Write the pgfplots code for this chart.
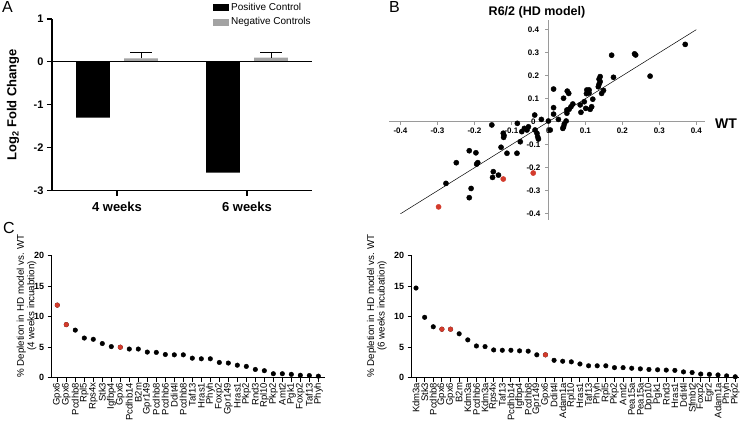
\documentclass[border=0pt]{standalone}
\usepackage{fontspec}
\setmainfont{Liberation Sans}
\usepackage{pgfplots}
\usepackage{pgfplotstable}
\pgfplotsset{compat=1.18}
\definecolor{ptred}{HTML}{D33B2C}
\definecolor{negg}{HTML}{A3A3A3}
\definecolor{axg}{HTML}{9A9A9A}

\pgfplotstableread{
x y
0.370 0.336
0.233 0.295
0.236 0.290
0.171 0.289
0.275 0.198
0.176 0.193
0.140 0.196
0.137 0.185
0.140 0.174
0.137 0.163
0.135 0.152
0.149 0.136
0.144 0.123
0.120 0.098
0.104 0.138
0.110 0.138
0.103 0.122
0.110 0.125
0.097 0.087
0.101 0.058
0.113 0.054
0.117 0.065
0.086 0.073
0.088 0.041
0.066 0.077
0.061 0.065
0.056 0.054
0.050 0.051
0.050 0.037
0.051 0.133
0.055 0.123
0.041 0.102
0.014 0.142
0.014 0.061
0.014 0.033
0.027 0.010
0.048 0.003
0.043 -0.010
0.041 -0.022
0.039 -0.029
0.005 -0.036
0.000 0.003
-0.019 0.010
-0.037 0.029
-0.036 -0.036
-0.031 -0.050
-0.029 -0.065
-0.027 -0.075
-0.054 -0.022
-0.058 -0.036
-0.072 -0.043
-0.065 -0.029
-0.084 -0.007
-0.076 -0.087
-0.085 -0.137
-0.112 -0.137
-0.128 -0.111
-0.122 -0.050
-0.120 -0.060
-0.121 -0.068
-0.153 -0.014
-0.214 -0.126
-0.196 -0.135
-0.191 -0.178
-0.194 -0.184
-0.249 -0.178
-0.277 -0.268
-0.149 -0.217
-0.151 -0.242
-0.135 -0.232
-0.209 -0.290
-0.214 -0.330
}\scatterblack

\pgfplotstableread{
x y
-0.297 -0.370
-0.122 -0.249
-0.041 -0.223
}\scatterred

\pgfplotstableread{
x y
1 11.9
2 8.7
3 7.8
4 6.5
5 6.3
6 5.6
7 5.1
8 5.0
9 4.7
10 4.7
11 4.2
12 4.15
13 3.8
14 3.75
15 3.75
16 3.2
17 3.1
18 3.1
19 2.5
20 2.4
21 2.05
22 1.85
23 1.35
24 1.15
25 0.65
26 0.65
27 0.55
28 0.4
29 0.35
30 0.25
}\leftC

\pgfplotstableread{
x y
1 11.9
2 8.7
8 5.0
}\leftCred

\pgfplotstableread{
x y
1 14.7
2 9.9
3 8.35
4 7.95
5 7.95
6 7.2
7 6.2
8 5.2
9 5.1
10 4.55
11 4.5
12 4.5
13 4.4
14 4.35
15 3.75
16 3.75
17 2.85
18 2.7
19 2.6
20 2.25
21 1.95
22 1.95
23 1.95
24 1.65
25 1.65
26 1.55
27 1.45
28 1.35
29 1.3
30 1.25
31 1.2
32 0.95
33 0.85
34 0.6
35 0.55
36 0.45
37 0.3
38 0.15
}\rightC

\pgfplotstableread{
x y
4 7.95
5 7.95
16 3.75
}\rightCred

\begin{document}
\begin{tikzpicture}
\path[use as bounding box] (0pt,0pt) rectangle (744pt,422pt);

% ---------------- Panel A ----------------
\begin{axis}[
  at={(52pt,231.3pt)}, anchor=south west, scale only axis,
  width=260pt, height=171.7pt,
  xmin=0.5, xmax=2.5, ymin=-3, ymax=1,
  axis x line=bottom, axis y line=left,
  axis line style={-, line width=1.1pt},
  xtick={1,2}, xticklabels={4 weeks,6 weeks},
  ytick={-3,-2,-1,0,1}, yticklabels={-3,-2,-1,0,1},
  tick align=outside, major tick length=5pt,
  tick style={line width=1.1pt, black},
  yticklabel style={font=\bfseries\fontsize{11}{12}\selectfont},
  xticklabel style={font=\bfseries\fontsize{13}{14}\selectfont, yshift=-3pt},
  ylabel={Log\textsubscript{2} Fold Change},
  ylabel style={font=\bfseries\fontsize{13}{14}\selectfont, at={(axis description cs:-0.15,0.5)}, anchor=center},
  legend style={draw=none, fill=none, at={(axis description cs:0.62,1.105)}, anchor=north west,
    font=\fontsize{10}{12}\selectfont, row sep=2pt, inner sep=0pt, outer sep=0pt},
  legend cell align=left,
  clip=false,
]
\addplot[ybar, bar width=0.26, bar shift=0pt, fill=black, draw=none,
  legend image code/.code={\fill[black] (0pt,-3.5pt) rectangle (16pt,3.5pt);}]
  coordinates {(0.815,-1.3) (1.815,-2.58)};
\addlegendentry{Positive Control}
\addplot[ybar, bar width=0.26, bar shift=0pt, fill=negg, draw=none,
  legend image code/.code={\fill[negg] (0pt,-3.5pt) rectangle (16pt,3.5pt);},
  error bars/.cd, y dir=plus, y explicit,
  error bar style={line width=1.1pt, black},
  error mark options={line width=1.1pt, black, mark size=11pt, rotate=90}]
  coordinates {(1.185,0.08) +- (0,0.13) (2.185,0.10) +- (0,0.11)};
\addlegendentry{Negative Controls}
\addplot[line width=1.1pt, black, forget plot] coordinates {(0.5,0) (2.5,0)};
\end{axis}

% ---------------- Panel B ----------------
\begin{axis}[
  at={(389pt,202pt)}, anchor=south west, scale only axis,
  width=316pt, height=200pt,
  xmin=-0.431, xmax=0.4235, ymin=-0.427, ymax=0.442,
  axis lines=middle, axis line style={-, axg, line width=0.7pt},
  xtick={-0.4,-0.3,-0.2,-0.1,0,0.1,0.2,0.3,0.4},
  xticklabels={-0.4,-0.3,-0.2,-0.1,0,0.1,0.2,0.3,0.4},
  ytick={-0.4,-0.3,-0.2,-0.1,0,0.1,0.2,0.3,0.4},
  yticklabels={-0.4,-0.3,-0.2,-0.1,0,0.1,0.2,0.3,0.4},
  hide obscured x ticks=false, hide obscured y ticks=false,
  tick style={axg, line width=0.6pt}, major tick length=3pt, tick align=outside,
  ticklabel style={font=\bfseries\fontsize{8}{10}\selectfont},
  yticklabel style={anchor=center, xshift=-12pt},
  clip=false,
]
\addplot[black, line width=0.5pt] coordinates {(-0.4,-0.4) (0.4,0.4)};
\addplot[only marks, mark=*, mark size=2.6pt, draw=black, fill=black] table[x=x,y=y] {\scatterblack};
\addplot[only marks, mark=*, mark size=2.6pt, draw=ptred, fill=ptred, mark options={draw=ptred, fill=ptred}] table[x=x,y=y] {\scatterred};
\end{axis}

% ---------------- Panel C left ----------------
\begin{axis}[
  at={(51.7pt,44.3pt)}, anchor=south west, scale only axis,
  width=273.3pt, height=122pt,
  xmin=0.38, xmax=30.74, ymin=0, ymax=20,
  axis x line=bottom, axis y line=left, axis line style={-, line width=1.1pt},
  xtick={1,...,30},
  xticklabels={Gpx6,Gpx6,Pcdhb8,Rpl5,Rps4x,Stk3,Igfbp4,Gpx6,Pcdhb14,B2m,Gpr149,Pcdhb8,Pcdhb6,Ddit4l,Pcdhb8,Taf13,Hras1,Phyh,Foxp2,Gpr149,Hras1,Pkp2,Rnd3,Rpl10,Pkp2,Amt2,Pgk1,Foxp2,Taf13,Phyh},
  ytick={0,5,10,15,20}, yticklabels={0,5,10,15,20},
  tick align=outside, major tick length=4pt, tick style={line width=1pt, black},
  yticklabel style={font=\bfseries\fontsize{9}{10}\selectfont},
  xticklabel style={rotate=90, anchor=east, font=\fontsize{9.5}{10}\selectfont, inner sep=1pt},
  ylabel={\% Depletion in HD model vs. WT\\(4 weeks incuabtion)},
  ylabel style={align=center, font=\fontsize{9.8}{10.5}\selectfont, at={(axis description cs:-0.0915,0.588)}, anchor=center},
  clip=false,
]
\addplot[only marks, mark=*, mark size=2.3pt, draw=black, fill=black] table[x=x,y=y] {\leftC};
\addplot[only marks, mark=*, mark size=2.3pt, mark options={draw=ptred, fill=ptred}] table[x=x,y=y] {\leftCred};
\end{axis}

% ---------------- Panel C right ----------------
\begin{axis}[
  at={(411.7pt,44.3pt)}, anchor=south west, scale only axis,
  width=327pt, height=122pt,
  xmin=0.5, xmax=38.4, ymin=0, ymax=20,
  axis x line=bottom, axis y line=left, axis line style={-, line width=1.1pt},
  xtick={1,...,38},
  xticklabels={Kdm3a,Stk3,Pcdhb8,Gpx6,Gpx6,B2m,Kdm3a,Pcdhb6,Kdm3a,Rps4x,Taf13,Pcdhb14,Igfbp4,Pcdhb8,Gpr149,Gpx6,Ddit4l,Adam1a,Rpl10,Hras1,Taf13,Phyh,Rpl5,Pkp2,Amt2,Pea15a,Pea15a,Dpp10,Pgk1,Rnd3,Hras1,Ddit4l,Sfmbt2,Foxp2,Egr2,Adam1a,Phyh,Pkp2},
  ytick={0,5,10,15,20}, yticklabels={0,5,10,15,20},
  tick align=outside, major tick length=4pt, tick style={line width=1pt, black},
  yticklabel style={font=\bfseries\fontsize{9}{10}\selectfont},
  xticklabel style={rotate=90, anchor=east, font=\fontsize{9.5}{10}\selectfont, inner sep=1pt},
  ylabel={\% Depletion in HD model vs. WT\\(6 weeks incubation)},
  ylabel style={align=center, font=\fontsize{9.8}{10.5}\selectfont, at={(axis description cs:-0.107,0.588)}, anchor=center},
  clip=false,
]
\addplot[only marks, mark=*, mark size=2.3pt, draw=black, fill=black] table[x=x,y=y] {\rightC};
\addplot[only marks, mark=*, mark size=2.3pt, mark options={draw=ptred, fill=ptred}] table[x=x,y=y] {\rightCred};
\end{axis}

% ---------------- Texts ----------------
\node[font=\fontsize{16}{16}\selectfont] at (7.5pt,414.5pt) {A};
\node[font=\fontsize{16}{16}\selectfont] at (394.5pt,414.5pt) {B};
\node[font=\fontsize{16}{16}\selectfont] at (9pt,194.5pt) {C};
\node[font=\bfseries\fontsize{12.5}{14}\selectfont] at (537pt,410pt) {R6/2 (HD model)};
\node[font=\bfseries\fontsize{14}{16}\selectfont] at (726pt,298.7pt) {WT};
\end{tikzpicture}
\end{document}
